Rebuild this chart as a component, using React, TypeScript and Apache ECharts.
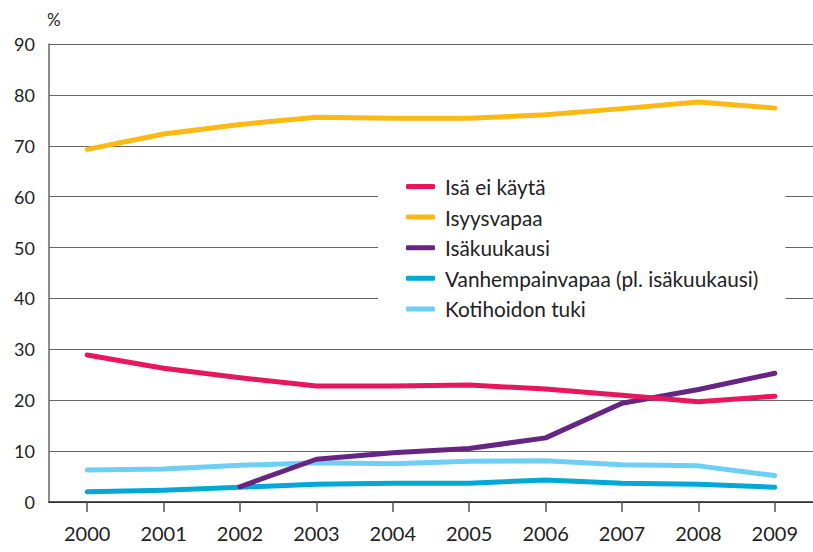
import React, { useEffect, useRef } from "react";
import * as echarts from "echarts";

const years = ["2000", "2001", "2002", "2003", "2004", "2005", "2006", "2007", "2008", "2009"];
const isaEiKayta = [28.9, 26.3, 24.4, 22.8, 22.8, 23.0, 22.2, 21.0, 19.7, 20.8];
const isyysvapaa = [69.3, 72.3, 74.2, 75.6, 75.4, 75.4, 76.1, 77.3, 78.6, 77.4];
const isakuukausi = [null, null, 3.0, 8.4, 9.7, 10.5, 12.6, 19.4, 22.1, 25.3];
const vanhempainvapaa = [2.0, 2.3, 2.9, 3.5, 3.7, 3.7, 4.3, 3.7, 3.5, 2.9];
const kotihoidonTuki = [6.3, 6.5, 7.2, 7.7, 7.5, 8.0, 8.1, 7.3, 7.1, 5.2];
const seriesNames = [
  "Isä ei käytä",
  "Isyysvapaa",
  "Isäkuukausi",
  "Vanhempainvapaa (pl. isäkuukausi)",
  "Kotihoidon tuki",
];
const colors = ["#e8175d", "#fdb913", "#662483", "#00a8d6", "#6dcff6"];

export default function App() {
  const ref = useRef<HTMLDivElement>(null);
  useEffect(() => {
    if (!ref.current) return;
    const chart = echarts.init(ref.current, null, { renderer: "svg" });
    const datasets = [isaEiKayta, isyysvapaa, isakuukausi, vanhempainvapaa, kotihoidonTuki];
    chart.setOption({
      animation: false,
      textStyle: { fontFamily: "Lato" },
      grid: { left: 49, right: 0, top: 44, bottom: 50 },
      graphic: [
        {
          type: "text",
          left: 47,
          top: 11,
          style: { text: "%", fontSize: 17, fill: "#222", fontFamily: "Lato" },
        },
      ],
      legend: {
        orient: "vertical",
        left: 378,
        top: 166,
        backgroundColor: "#ffffff",
        padding: [10, 27, 10, 28],
        itemWidth: 29,
        itemHeight: 5,
        itemGap: 9.6,
        icon: "roundRect",
        textStyle: { fontSize: 20.8, color: "#222", fontFamily: "Lato", lineHeight: 20, padding: [0, 0, 0, 5] },
        data: seriesNames,
      },
      xAxis: {
        type: "category",
        data: years,
        boundaryGap: true,
        axisLine: { show: true, lineStyle: { color: "#222", width: 1.5 } },
        axisTick: { show: true, alignWithLabel: true, length: 10, lineStyle: { color: "#555", width: 1.5 } },
        axisLabel: { fontSize: 20, color: "#222", margin: 21, fontFamily: "Lato" },
      },
      yAxis: {
        type: "value",
        min: 0,
        max: 90,
        interval: 10,
        axisLine: { show: true, lineStyle: { color: "#666", width: 1.5 } },
        axisTick: { show: false },
        axisLabel: { fontSize: 18, color: "#222", margin: 14, fontFamily: "Lato" },
        splitLine: { show: true, lineStyle: { color: "#666", width: 1.2 } },
      },
      series: datasets.map((d, i) => ({
        name: seriesNames[i],
        type: "line",
        data: d,
        showSymbol: false,
        symbol: "none",
        connectNulls: false,
        z: 10 - i,
        lineStyle: { color: colors[i], width: 5, cap: "round", join: "round" },
        itemStyle: { color: colors[i] },
      })),
    });
    return () => chart.dispose();
  }, []);
  return <div ref={ref} style={{ width: 813, height: 552, position: "absolute", left: 0, top: 0 }} />;
}
